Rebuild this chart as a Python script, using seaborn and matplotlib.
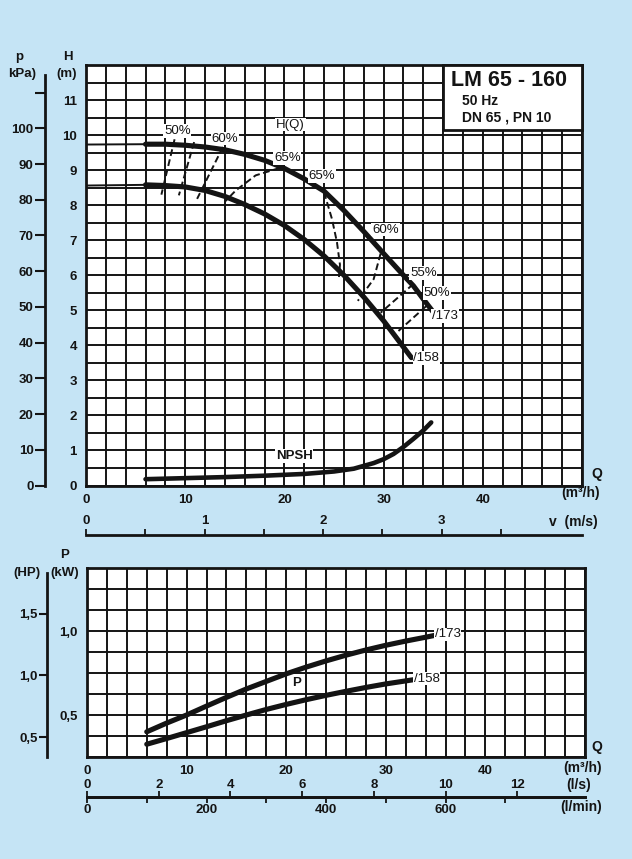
import matplotlib
matplotlib.use("Agg")
import matplotlib.pyplot as plt
import seaborn as sns
from matplotlib.patches import Rectangle
from matplotlib.ticker import MultipleLocator

# ---- data (Q in m3/h) ----
# head curves H(Q), impeller 173 and 158
q_173 = [6, 8, 10, 12, 14, 16, 18, 20, 22, 24, 26, 28, 30, 32, 33, 34, 35]
h_173 = [9.74, 9.74, 9.71, 9.66, 9.58, 9.45, 9.28, 9.05, 8.75, 8.40, 7.85, 7.25, 6.62, 6.00, 5.70, 5.32, 4.95]
q_158 = [6, 8, 10, 12, 14, 16, 18, 20, 22, 24, 26, 28, 30, 32, 32.8]
h_158 = [8.58, 8.56, 8.52, 8.42, 8.25, 8.02, 7.75, 7.42, 7.02, 6.55, 6.00, 5.38, 4.70, 3.95, 3.65]
# thin start of the head curves
q_ext = [0, 6]
h_173_ext = [9.73, 9.74]
h_158_ext = [8.56, 8.58]

# NPSH
q_npsh = [6, 10, 14, 18, 22, 25, 27, 29, 30, 31, 32, 33, 34, 34.8]
npsh = [0.18, 0.21, 0.24, 0.28, 0.33, 0.40, 0.48, 0.64, 0.75, 0.90, 1.10, 1.33, 1.57, 1.80]

# iso efficiency lines (dashed)
eff50a_q, eff50a_h = [8.93, 7.6], [9.88, 8.30]
eff55a_q, eff55a_h = [10.9, 9.36], [9.80, 8.28]
eff60a_q, eff60a_h = [13.8, 11.2], [9.66, 8.18]
eff65a_q, eff65a_h = [19.5, 17.1, 15.1, 14.0], [9.06, 8.85, 8.42, 8.10]
eff65b_q, eff65b_h = [24.0, 24.8, 25.3, 25.6, 25.5], [8.37, 7.60, 6.94, 6.30, 5.95]
eff60b_q, eff60b_h = [29.7, 29.0, 27.4], [6.62, 5.89, 5.27]
eff55b_q, eff55b_h = [33.0, 29.7], [5.75, 4.93]
eff50b_q, eff50b_h = [34.3, 31.5], [5.12, 4.41]

# power P(Q) in kW
q_p173 = [6, 8, 10, 12, 14, 16, 18, 20, 22, 24, 26, 28, 30, 32, 34, 35]
p_173 = [0.40, 0.452, 0.50, 0.553, 0.605, 0.655, 0.70, 0.745, 0.785, 0.822, 0.856, 0.887, 0.915, 0.94, 0.963, 0.975]
q_p158 = [6, 8, 10, 12, 14, 16, 18, 20, 22, 24, 26, 28, 30, 32, 33]
p_158 = [0.326, 0.36, 0.395, 0.43, 0.466, 0.50, 0.533, 0.563, 0.591, 0.617, 0.641, 0.664, 0.685, 0.703, 0.712]

q_ticks = [0, 10, 20, 30, 40]
h_ticks = list(range(0, 12))
kpa_ticks = list(range(0, 120, 10))
v_ticks = [0, 1, 2, 3]
kw_ticks = [0.5, 1.0]
kw_labels = ["0,5", "1,0"]
hp_ticks = [0.5, 1.0, 1.5]
hp_labels = ["0,5", "1,0", "1,5"]
ls_ticks = [0, 2, 4, 6, 8, 10, 12]
lmin_ticks = list(range(0, 800, 100))

# ---- style ----
sns.set_theme(style="white")
plt.rcParams['font.family'] = ['Liberation Sans', 'DejaVu Sans']
plt.rcParams['font.weight'] = 'bold'
ink = "#141414"
bg = "#c5e4f5"
W, H = 632, 859

fig = plt.figure(figsize=(W / 100, H / 100), dpi=100, facecolor=bg)
ax = fig.add_axes([86 / W, 1 - 485.5 / H, 496 / W, 420.5 / H])
ax2 = fig.add_axes([87 / W, 1 - 757 / H, 498 / W, 189 / H])


def grid_axes(a, ystep):
    a.set_facecolor("white")
    a.xaxis.set_minor_locator(MultipleLocator(2))
    a.yaxis.set_minor_locator(MultipleLocator(ystep))
    a.grid(which="both", color=ink, lw=1.4)
    for s in a.spines.values():
        s.set_color(ink)
        s.set_linewidth(2.0)
    a.tick_params(which="minor", length=0)
    a.tick_params(axis="x", which="major", length=4, width=1.3, pad=2,
                  labelsize=9.5, colors=ink)
    a.tick_params(axis="y", which="major", length=5.5, width=1.5, pad=1,
                  labelsize=9.5, colors=ink)


grid_axes(ax, 0.5)
grid_axes(ax2, 0.125)

thick = dict(color=ink, lw=3.7, sort=False, estimator=None)
dash = dict(color=ink, lw=1.4, ls=(0, (3.5, 1.8)), sort=False, estimator=None)

# ---- head panel ----
sns.lineplot(x=q_ext, y=h_173_ext, ax=ax, color=ink, lw=1.4)
sns.lineplot(x=q_ext, y=h_158_ext, ax=ax, color=ink, lw=1.4)
sns.lineplot(x=q_173, y=h_173, ax=ax, **thick)
sns.lineplot(x=q_158, y=h_158, ax=ax, **thick)
sns.lineplot(x=q_npsh, y=npsh, ax=ax, color=ink, lw=3.3, sort=False, estimator=None)
for qq, hh in [(eff50a_q, eff50a_h), (eff55a_q, eff55a_h), (eff60a_q, eff60a_h),
               (eff65a_q, eff65a_h), (eff65b_q, eff65b_h), (eff60b_q, eff60b_h),
               (eff55b_q, eff55b_h), (eff50b_q, eff50b_h)]:
    sns.lineplot(x=qq, y=hh, ax=ax, **dash)

ax.set_xlim(0, 50)
ax.set_ylim(0, 12)
ax.set_xticks(q_ticks)
ax.set_yticks(h_ticks)
ax.set_xlabel("")
ax.set_ylabel("")

wb = dict(fc="white", ec="none", pad=0.6)
lab = dict(fontsize=9.5, fontweight="normal", color=ink, ha="center", va="center",
           bbox=wb, zorder=4)
ax.text(9.2, 10.11, "50%", **lab)
ax.text(14.0, 9.90, "60%", **lab)
ax.text(20.6, 10.30, "H(Q)", **lab)
ax.text(20.3, 9.35, "65%", **lab)
ax.text(23.8, 8.83, "65%", **lab)
ax.text(30.2, 7.30, "60%", **lab)
ax.text(34.0, 6.06, "55%", **lab)
ax.text(35.4, 5.49, "50%", **lab)
ax.text(21.0, 0.85, "NPSH", fontsize=9.5, color=ink,
        ha="center", va="center", bbox=wb, zorder=4)
end = dict(fontsize=9.5, fontweight="normal", color=ink, ha="left", va="center",
           bbox=wb, zorder=4)
ax.text(34.9, 4.84, "/173", **end)
ax.text(33.0, 3.64, "/158", **end)

ax.add_patch(Rectangle((36, 10.15), 14, 1.85, fc="white", ec=ink, lw=2.0,
                       zorder=3, clip_on=False))
ax.text(36.8, 11.56, "LM 65 - 160", fontsize=15.5, color=ink, ha="left", va="center", zorder=5)
ax.text(37.9, 10.96, "50 Hz", fontsize=10, color=ink, ha="left", va="center", zorder=5)
ax.text(37.9, 10.50, "DN 65 , PN 10", fontsize=10, color=ink, ha="left", va="center", zorder=5)

# pressure scale
kpa = ax.secondary_yaxis(-0.083, functions=(lambda h: h * 9.81, lambda p: p / 9.81))
kpa.set_yticks(kpa_ticks)
kpa.set_yticklabels([str(t) if t <= 100 else "" for t in kpa_ticks])
kpa.tick_params(length=7, width=1.5, pad=1, labelsize=9.5, colors=ink)
kpa.spines["left"].set_linewidth(2.0)
kpa.spines["left"].set_color(ink)
kpa.spines["left"].set_bounds(0, 115)

# velocity scale
vax = ax.secondary_xaxis(-0.118, functions=(lambda q: q / 11.95, lambda v: v * 11.95))
vax.set_alignment("top")
vax.set_xticks(v_ticks)
vax.set_xticks([0.5, 1.5, 2.5, 3.5], minor=True)
vax.tick_params(which="both", length=4.5, width=1.3, pad=1, labelsize=9.5, colors=ink)
vax.spines["top"].set_linewidth(2.0)
vax.spines["top"].set_color(ink)

# ---- power panel ----
sns.lineplot(x=q_p173, y=p_173, ax=ax2, **thick)
sns.lineplot(x=q_p158, y=p_158, ax=ax2, **thick)
ax2.set_xlim(0, 50)
ax2.set_ylim(0.25, 1.375)
ax2.set_xticks(q_ticks)
ax2.set_yticks(kw_ticks)
ax2.set_yticklabels(kw_labels)
ax2.set_xlabel("")
ax2.set_ylabel("")
ax2.text(21.0, 0.693, "P", fontsize=9.5, color=ink,
         ha="center", va="center", bbox=wb, zorder=4)
ax2.text(34.9, 0.98, "/173", **end)
ax2.text(32.8, 0.717, "/158", **end)

hp = ax2.secondary_yaxis(-0.080, functions=(lambda kw: kw / 0.7355, lambda p: p * 0.7355))
hp.set_yticks(hp_ticks)
hp.set_yticklabels(hp_labels)
hp.tick_params(length=6, width=1.5, pad=1, labelsize=9.5, colors=ink)
hp.spines["left"].set_linewidth(2.0)
hp.spines["left"].set_color(ink)
hp.spines["left"].set_bounds(0.34, 1.83)

lsx = ax2.secondary_xaxis(-0.212, functions=(lambda q: q / 3.6, lambda s: s * 3.6))
lsx.set_alignment("top")
lsx.set_xticks(ls_ticks)
lsx.tick_params(length=4, width=1.3, pad=0.5, labelsize=9.5, colors=ink)
lsx.spines["top"].set_linewidth(2.0)
lsx.spines["top"].set_color(ink)

lmx = ax2.secondary_xaxis(-0.212, functions=(lambda q: q * 1000 / 60, lambda m: m * 0.06))
lmx.set_xticks(lmin_ticks)
lmx.set_xticklabels([str(t) if t % 200 == 0 else "" for t in lmin_ticks])
lmx.tick_params(length=4, width=1.3, pad=1, labelsize=9.5, colors=ink)
lmx.spines["bottom"].set_linewidth(2.0)
lmx.spines["bottom"].set_color(ink)


# ---- axis titles (figure pixels) ----
def ftext(x, y, s, **kw):
    kw.setdefault("fontsize", 9.5)
    fig.text(x / W, 1 - y / H, s, ha=kw.pop("ha", "center"), va="center", color=ink, **kw)


ftext(19, 57, "p")
ftext(22, 74, "kPa)")
ftext(68, 57, "H")
ftext(67, 74, "(m)")
ftext(597, 474, "Q", fontsize=10)
ftext(581, 493, "(m³/h)", fontsize=10)
ftext(573, 522, "v  (m/s)", fontsize=10)

ftext(65, 555, "P")
ftext(27, 573, "(HP)")
ftext(65, 573, "(kW)")
ftext(597, 747, "Q", fontsize=10)
ftext(583, 768, "(m³/h)", fontsize=10)
ftext(579, 785, "(l/s)", fontsize=10)
ftext(581, 807, "(l/min)", fontsize=10)

fig.savefig("out.png", dpi=100, facecolor=bg)
